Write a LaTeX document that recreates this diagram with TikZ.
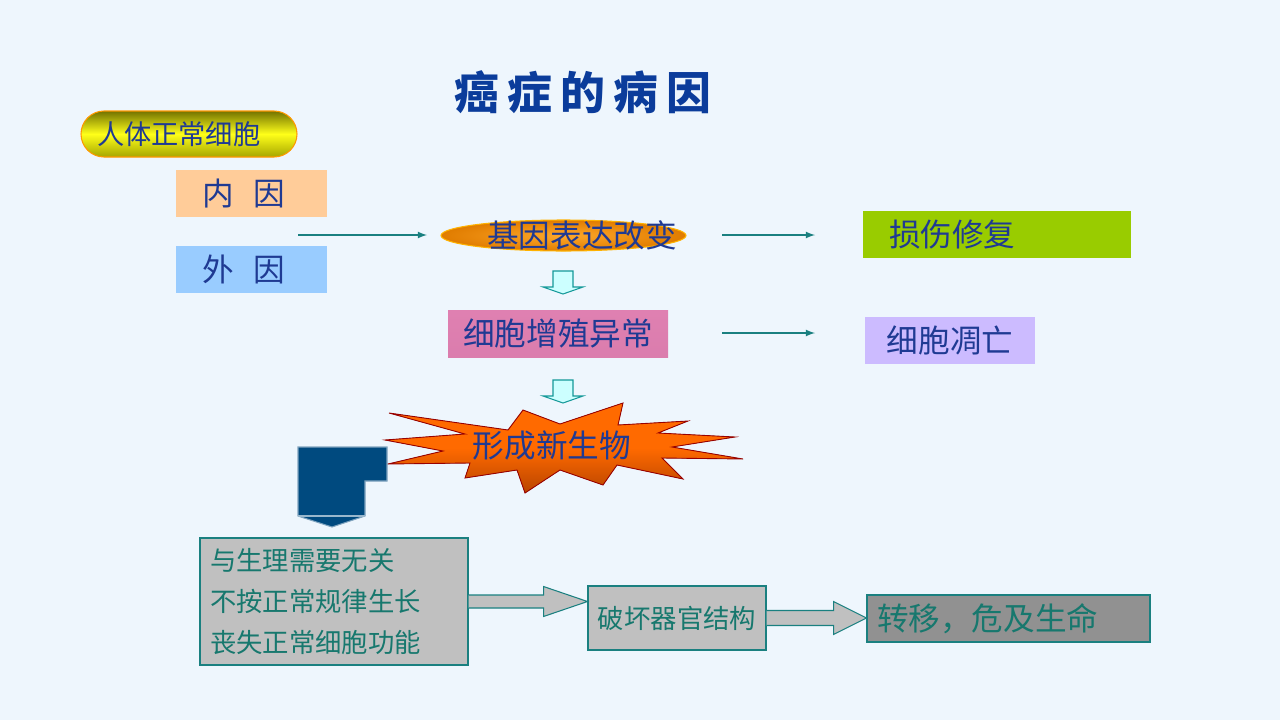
\documentclass[tikz,border=0pt]{standalone}
\usepackage{fontspec}
\setmainfont{Noto Sans CJK SC}
\usepackage{tikz}
\usetikzlibrary{positioning,shapes,arrows,shapes.geometric,calc}

\definecolor{bgblue}{HTML}{EEF6FD}
\definecolor{navy}{HTML}{1F3A93}
\definecolor{titleblue}{HTML}{0B3C9B}
\definecolor{tealline}{HTML}{1A8080}
\definecolor{tealtext}{HTML}{17786E}
\definecolor{peach}{HTML}{FFCC99}
\definecolor{skyblue}{HTML}{99CCFF}
\definecolor{leaf}{HTML}{99CC00}
\definecolor{lilac}{HTML}{CCBBFF}
\definecolor{boxgray}{HTML}{C0C0C0}
\definecolor{darkgray}{HTML}{919191}
\definecolor{deepblue}{HTML}{004A7F}
\definecolor{paleblue}{HTML}{CCFFFF}
\definecolor{pinkmid}{HTML}{FF99CC}
\definecolor{pinkedge}{HTML}{A4527F}
\definecolor{orangemid}{HTML}{FFA82A}
\definecolor{orangeedge}{HTML}{E07C00}
\definecolor{burst}{HTML}{FF6A00}
\definecolor{burstdark}{HTML}{B84400}

\tikzset{
  bigtext/.style={font=\fontsize{18}{22}\selectfont, text=navy},
  midtext/.style={font=\fontsize{15.5}{18}\selectfont, text=navy},
  flatbox/.style={rectangle, inner sep=0pt, minimum height=47*0.02cm},
  graybox/.style={rectangle, draw=tealline, fill=boxgray, line width=0.6pt,
    text=tealtext, inner sep=0pt},
  thinarrow/.style={->, >=latex, tealline, line width=0.8pt},
  blockarrow/.style={draw=tealline, fill=boxgray, line width=0.6pt},
  hollow/.style={draw=tealline!80!cyan, fill=paleblue, line width=0.6pt},
}
\newcommand\hollowdown[1]{%
  \filldraw[hollow] ($(#1)+(-10,0)$) -- ($(#1)+(10,0)$) -- ($(#1)+(10,16)$)
    -- ($(#1)+(20,16)$) -- ($(#1)+(0,23)$) -- ($(#1)+(-20,16)$)
    -- ($(#1)+(-10,16)$) -- cycle;}

\begin{document}
\begin{tikzpicture}[x=0.02cm, y=-0.02cm]
  \fill[bgblue] (0,0) rectangle (1280,720);
  \useasboundingbox (0,0) rectangle (1280,720);

  % title
  \node[font=\fontsize{25.5}{30}\selectfont\bfseries, text=titleblue] (title) at (583,92)
    {癌\hspace{0.18em}症\hspace{0.18em}的\hspace{0.18em}病\hspace{0.18em}因};

  % causes
  \node[midtext, rounded corners=0.46cm, draw=orange!80!yellow, line width=0.6pt,
    top color=olive!90!black, bottom color=olive!70!yellow, middle color=yellow!90!white,
    minimum width=216*0.02cm, minimum height=46*0.02cm, inner sep=0pt,
    text width=184*0.02cm, align=left] (cell) at (189,134) {人体正常细胞};
  \node[flatbox, bigtext, fill=peach, minimum width=151*0.02cm,
    text width=98*0.02cm, align=left] (inner) at (251.5,193.5) {内\hspace{0.6em}因};
  \node[flatbox, bigtext, fill=skyblue, minimum width=151*0.02cm,
    text width=98*0.02cm, align=left] (outer) at (251.5,269.5) {外\hspace{0.6em}因};

  \coordinate (c1) at (298,235);
  \coordinate (c2) at (427,235);
  \draw[thinarrow] (c1) -- (c2);

  % gene expression
  \node[ellipse, draw=orange!60!yellow, line width=0.6pt, inner color=orangemid,
    outer color=orangeedge, minimum width=245*0.02cm, minimum height=31*0.02cm]
    (gene) at (563.5,235.5) {};
  \node[bigtext] (genetext) at (582,235) {基因表达改变};

  \coordinate (c3) at (722,235);
  \coordinate (c4) at (815,235);
  \draw[thinarrow] (c3) -- (c4);
  \node[flatbox, bigtext, fill=leaf, minimum width=268*0.02cm,
    text width=216*0.02cm, align=left] (repair) at (997,234.5) {损伤修复};

  \coordinate (d1) at (563,271);
  \hollowdown{d1}

  % proliferation
  \node[flatbox, bigtext, top color=pinkmid!65!pinkedge, middle color=pinkmid,
    bottom color=pinkmid!60!pinkedge, minimum width=220*0.02cm] (prolif) at (558,333.5)
    {细胞增殖异常};

  \coordinate (c5) at (722,333);
  \coordinate (c6) at (815,333);
  \draw[thinarrow] (c5) -- (c6);
  \node[flatbox, bigtext, fill=lilac, minimum width=170*0.02cm] (apoptosis)
    at (950,340.5) {细胞凋亡};

  \coordinate (d2) at (563,380);
  \hollowdown{d2}

  % new growth
  \filldraw[draw=red!60!black, line width=0.5pt, top color=burst,
    bottom color=burstdark, middle color=burst]
    (389,413) -- (508,430) -- (523,410) -- (560,424) -- (623,403) -- (618,425)
    -- (688,421) -- (658,433) -- (735,437) -- (672,447) -- (743,459) -- (662,458)
    -- (683,479) -- (617,465) -- (603,485) -- (560,470) -- (525,493) -- (517,470)
    -- (465,478) -- (470,463) -- (388,464) -- (443,451) -- (385,440) -- (465,434)
    -- cycle;
  \node[bigtext] (growth) at (552,446) {形成新生物};

  \filldraw[fill=deepblue, draw=deepblue!50!white, line width=0.6pt]
    (298,447) -- (387,447) -- (387,481) -- (365,481) -- (365,516)
    -- (332,527) -- (298,516) -- cycle;
  \draw[deepblue!40!white, line width=0.6pt] (298,516) -- (365,516);

  % outcomes
  \node[graybox, font=\fontsize{15}{23.3}\selectfont, minimum width=268*0.02cm,
    minimum height=127*0.02cm, text width=248*0.02cm, align=left] (cause)
    at (334,601.5) {与生理需要无关\\不按正常规律生长\\丧失正常细胞功能};
  \node[graybox, font=\fontsize{15}{18}\selectfont, minimum width=178*0.02cm,
    minimum height=64*0.02cm] (organ) at (677,618) {破坏器官结构};
  \node[graybox, fill=darkgray, font=\fontsize{18}{22}\selectfont,
    minimum width=283*0.02cm, minimum height=47*0.02cm, text width=263*0.02cm,
    align=left] (meta) at (1008.5,618.5) {转移，危及生命};

  \filldraw[blockarrow] ($(cause.east)+(0,-6.5)$) -- ($(cause.east)+(75,-6.5)$)
    -- ($(cause.east)+(75,-15)$) -- (organ.west |- cause.east)
    -- ($(cause.east)+(75,15)$) -- ($(cause.east)+(75,6.5)$) -- ($(cause.east)+(0,6.5)$);
  \filldraw[blockarrow] ($(organ.east)+(0,-7.5)$) -- ($(organ.east)+(67,-7.5)$)
    -- ($(organ.east)+(67,-16.5)$) -- (meta.west |- organ.east)
    -- ($(organ.east)+(67,16.5)$) -- ($(organ.east)+(67,7.5)$) -- ($(organ.east)+(0,7.5)$);
\end{tikzpicture}
\end{document}
